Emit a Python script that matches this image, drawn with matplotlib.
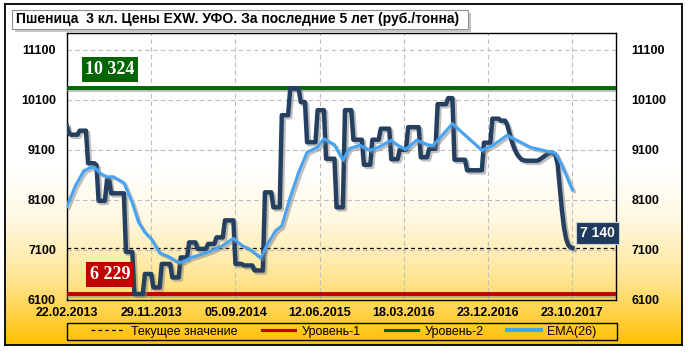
import numpy as np
import matplotlib
matplotlib.use("Agg")
from matplotlib import pyplot as plt
from matplotlib import patheffects as pe
from matplotlib.colors import LinearSegmentedColormap
from matplotlib.lines import Line2D
from matplotlib.patches import Rectangle

# weekly prices, rub/t
price = [
    9570, 9420, 9400, 9400, 9400, 9400, 9480, 9480, 9480, 9480,
    8830, 8830, 8830, 8830, 8790, 8080, 8080, 8080, 8080, 8500,
    8500, 8230, 8230, 8230, 8230, 8230, 8230, 8230, 7060, 7060,
    7060, 7060, 6220, 6220, 6220, 6220, 6220, 6620, 6620, 6620,
    6620, 6350, 6350, 6350, 6350, 6820, 6820, 6820, 6820, 6820,
    6550, 6550, 6550, 6550, 6950, 6950, 6950, 6950, 7250, 7250,
    7250, 7250, 7120, 7120, 7120, 7120, 7120, 7220, 7220, 7220,
    7220, 7350, 7350, 7350, 7350, 7690, 7690, 7690, 7690, 7690,
    6820, 6820, 6820, 6820, 6790, 6790, 6790, 6790, 6790, 6690,
    6690, 6690, 6690, 6690, 8250, 8250, 8250, 8250, 7950, 7950,
    7950, 7950, 9790, 9790, 9790, 9790, 10320, 10320, 10320, 10320,
    10320, 10050, 10050, 10050, 9250, 9250, 9250, 9250, 9250, 9890,
    9890, 9890, 9890, 8920, 8920, 8920, 8920, 8920, 7950, 7950,
    7950, 7950, 9890, 9890, 9890, 9890, 9300, 9300, 9300, 9300,
    9300, 8800, 8800, 8800, 8800, 9300, 9300, 9300, 9300, 9520,
    9520, 9520, 9520, 9520, 8910, 8910, 8910, 8910, 9100, 9100,
    9100, 9100, 9550, 9550, 9550, 9550, 9550, 9550, 8950, 8950,
    8950, 8950, 9120, 9120, 9120, 9120, 10010, 10010, 10010, 10010,
    10010, 10130, 10130, 10130, 8900, 8900, 8900, 8900, 8900, 8900,
    8690, 8690, 8690, 8690, 8690, 8690, 8690, 8690, 9240, 9240,
    9240, 9240, 9720, 9720, 9720, 9720, 9680, 9680, 9680, 9600,
    9450, 9300, 9170, 9070, 8990, 8940, 8900, 8890, 8880, 8880,
    8880, 8880, 8880, 8880, 8890, 8920, 8950, 8980, 9010, 9030,
    9040, 9030, 8990, 8800, 8350, 7900, 7550, 7320, 7200, 7150,
    7140,
]

# EMA(26) at these week numbers
ema_week = [0, 4, 8, 11, 13, 16, 19, 22, 25, 27, 31, 34, 37, 40, 44, 48,
            53, 55, 59, 63, 69, 74, 79, 83, 87, 92, 95, 99, 102, 106, 110,
            114, 119, 122, 127, 131, 134, 139, 144, 148, 154, 157, 161, 166,
            172, 174, 183, 197, 202, 209, 215, 220, 226, 232, 235, 240]
ema = [7970, 8380, 8680, 8740, 8750, 8620, 8560, 8560, 8490, 8440, 8040,
       7650, 7450, 7320, 7040, 6970, 6850, 6860, 6950, 7000, 7090, 7190,
       7330, 7190, 7110, 6940, 7200, 7480, 7580, 8150, 8650, 9050, 9150,
       9320, 9200, 8890, 9120, 9190, 9090, 9150, 9290, 9190, 9110, 9290,
       9190, 9190, 9620, 9090, 9180, 9390, 9260, 9150, 9090, 9030, 8790,
       8300]

current = 7140
level1 = 6229
level2 = 10324

tick_weeks = [0, 40, 80, 120, 160, 200, 240]
tick_dates = ["22.02.2013", "29.11.2013", "05.09.2014", "12.06.2015",
              "18.03.2016", "23.12.2016", "23.10.2017"]
y_ticks = [6100, 7100, 8100, 9100, 10100, 11100]

title = "Пшеница  3 кл. Цены EXW. УФО. За последние 5 лет (руб./тонна)"

plt.rcParams["font.family"] = ["Liberation Sans", "DejaVu Sans"]

fig = plt.figure(figsize=(6.91, 3.53), dpi=100)
W, H = 691.0, 353.0

# outer frame with white -> gold gradient
bg = fig.add_axes([5 / W, 8 / H, 677 / W, 341 / H])
grad = LinearSegmentedColormap.from_list(
    "bg", [(0, "#ffc000"), (0.18, "#ffe38a"), (0.36, "#fff8e0"),
           (0.52, "#ffffff"), (1, "#ffffff")])
bg.imshow(np.linspace(0, 1, 256).reshape(-1, 1), aspect="auto", cmap=grad,
          origin="lower", extent=[0, 1, 0, 1])
bg.set_xticks([])
bg.set_yticks([])
for s in bg.spines.values():
    s.set_linewidth(1.3)
    s.set_color("black")

# title box
fig.patches.append(Rectangle((15 / W, (353 - 32) / H), 456 / W, 19 / H,
                             transform=fig.transFigure, facecolor="#a0a0a0",
                             edgecolor="none", alpha=0.6, zorder=2))
fig.patches.append(Rectangle((12 / W, (353 - 29) / H), 456 / W, 19 / H,
                             transform=fig.transFigure, facecolor="white",
                             edgecolor="#909090", lw=0.8, zorder=3))
fig.text(16 / W, (353 - 19.5) / H, title, fontsize=10, fontweight="bold",
         va="center", ha="left", zorder=4)

ax = fig.add_axes([67 / W, 53 / H, 549 / W, 267 / H])
ax.set_facecolor("none")
ax.set_xlim(0, 260.7)
ax.set_ylim(6100, 11430)

shadow = [pe.SimpleLineShadow(offset=(1.5, -1.5), shadow_color="#808080",
                              alpha=0.5), pe.Normal()]

x = np.arange(len(price))
ax.axhline(level2, color="#006400", lw=2.8, path_effects=shadow, zorder=3)
ax.axhline(level1, color="#c00000", lw=2.8, path_effects=shadow, zorder=3)
ax.axhline(current, color="black", lw=0.9, ls=(0, (3, 2.5)), zorder=3)
ax.plot(x, price, color="#243f60", lw=3.2, solid_joinstyle="round",
        path_effects=shadow, zorder=4)
ax.plot(ema_week, ema, color="#48a4f2", lw=2.2, solid_joinstyle="round",
        path_effects=shadow, zorder=5)

ax.set_xticks(tick_weeks)
ax.set_xticklabels(tick_dates, fontsize=9, fontweight="bold")
ax.set_yticks(y_ticks)
ax.set_yticklabels([str(v) for v in y_ticks], fontsize=9, fontweight="bold")
ax.tick_params(length=0)
ax.tick_params(axis="x", pad=5)
ax.tick_params(axis="y", pad=8)
ax.grid(True, color="#bdbdbd", lw=0.8, ls=(0, (4, 3)))
for s in ax.spines.values():
    s.set_color("black")
    s.set_linewidth(1.0)

ax2 = ax.twinx()
ax2.set_ylim(ax.get_ylim())
ax2.set_yticks(y_ticks)
ax2.set_yticklabels([str(v) for v in y_ticks], fontsize=9, fontweight="bold")
ax2.tick_params(length=0, pad=11)
for s in ax2.spines.values():
    s.set_visible(False)

# value labels
ax.annotate("10 324", (20.5, level2), xytext=(0, 19), textcoords="offset pixels",
            ha="center", va="center", color="white", fontsize=13,
            fontweight="bold", family="Liberation Serif", zorder=6,
            bbox=dict(boxstyle="square,pad=0.2", fc="#006400", ec="none"))
ax.annotate("6 229", (20.5, level1), xytext=(0, 19), textcoords="offset pixels",
            ha="center", va="center", color="white", fontsize=13,
            fontweight="bold", family="Liberation Serif", zorder=6,
            bbox=dict(boxstyle="square,pad=0.2", fc="#c00000", ec="none"))
ax.annotate("7 140", (len(price) - 1, current), xytext=(25, 15),
            textcoords="offset pixels", ha="center", va="center",
            color="white", fontsize=10, fontweight="bold", zorder=6,
            bbox=dict(boxstyle="square,pad=0.3", fc="#1f3a5c", ec="#c8d0d8",
                      lw=0.8))

# legend: frame spans the plot width, entries centred inside
fig.patches.append(Rectangle((67 / W, 13 / H), 550 / W, 17 / H,
                             transform=fig.transFigure, facecolor="none",
                             edgecolor="black", lw=1.0, zorder=5))
handles = [
    Line2D([], [], color="black", lw=0.9, ls=(0, (3, 2.5))),
    Line2D([], [], color="#c00000", lw=2.2),
    Line2D([], [], color="#006400", lw=2.2),
    Line2D([], [], color="#48a4f2", lw=3.0),
]
labels = ["Текущее значение", "Уровень-1", "Уровень-2", "ЕМА(26)"]
fig.legend(handles, labels, loc="center", ncol=4,
           bbox_to_anchor=(344 / W, 21.5 / H),
           fontsize=9, handlelength=2.7, handletextpad=0.5,
           columnspacing=1.9, borderaxespad=0, borderpad=0.1,
           frameon=False)

fig.savefig("out.png", dpi=100)
